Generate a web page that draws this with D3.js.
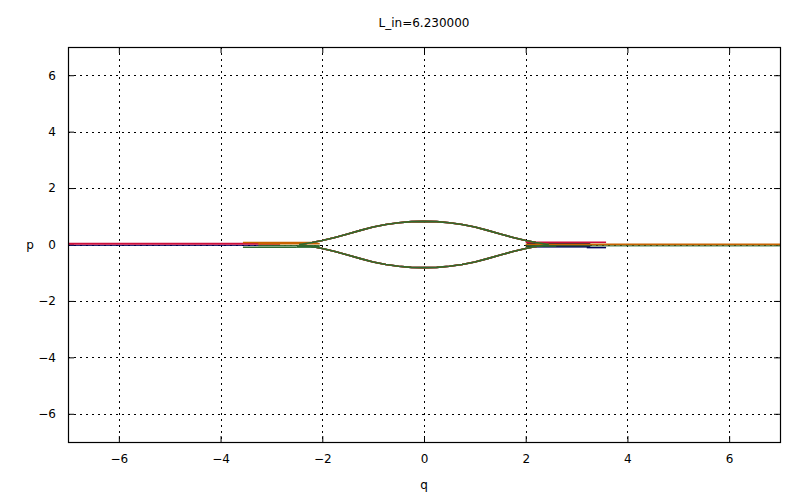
<!DOCTYPE html>
<html lang="en">
<head>
<meta charset="UTF-8">
<title>L_in=6.230000</title>
<script src="https://d3js.org/d3.v7.min.js"></script>
<style>
  body { margin: 0; background: #fff; }
  text { font-family: "DejaVu Sans", sans-serif; font-size: 12px; fill: #000; }
</style>
</head>
<body>
<div id="chart"></div>
<script>
    // Axis ticks
    const xTicks = [-6, -4, -2, 0, 2, 4, 6];
    const yTicks = [-6, -4, -2, 0, 2, 4, 6];

    // Separatrix-like lens (shared by all runs)
    const lensQ = [-2.45, -2.2, -2.0, -1.75, -1.5, -1.25, -1.0, -0.75, -0.5, -0.25, 0, 0.25, 0.5, 0.75, 1.0, 1.25, 1.5, 1.75, 2.0, 2.2, 2.45];
    const lensUpperP = [0.0, 0.07, 0.14, 0.25, 0.37, 0.5, 0.62, 0.71, 0.77, 0.81, 0.82, 0.81, 0.77, 0.71, 0.62, 0.5, 0.37, 0.25, 0.14, 0.07, 0.0];
    const lensLowerP = [0.0, -0.07, -0.14, -0.25, -0.37, -0.5, -0.62, -0.71, -0.77, -0.81, -0.82, -0.81, -0.77, -0.71, -0.62, -0.5, -0.37, -0.25, -0.14, -0.07, 0.0];

    // Tails (q from, q to, p, width) per run
    const redTails = [[-7, -2.83, 0.03, 2], [2.0, 3.58, 0.08, 1.5]];
    const navyTails = [[-7, -2.83, -0.03, 1], [3.2, 3.58, -0.11, 1.5]];
    const orangeTails = [[-3.56, -2.2, 0.075, 1.5], [2.0, 7, 0.0, 2]];
    const greenTails = [[-3.56, -2.5, -0.1, 1.5], [2.3, 7, -0.05, 1]];

    // Dense bands where the runs pile up (q from, q to, p low, p high)
    const redBands = [];
    const navyBands = [[2.02, 3.27, -0.11, 0.06]];
    const orangeBands = [[-3.26, -2.05, 0.0, 0.06]];
    const greenBands = [[-3.26, -2.5, -0.06, -0.02], [-2.5, -2.05, -0.12, -0.02], [2.0, 2.6, -0.08, -0.03]];

    const runs = [
        { color: "#00005a", tails: navyTails, bands: navyBands },
        { color: "#cc0e3c", tails: redTails, bands: redBands },
        { color: "#c86400", tails: orangeTails, bands: orangeBands },
        { color: "#2f6a2f", tails: greenTails, bands: greenBands }
    ];

    const width = 800, height = 494;
    const margin = { top: 47, right: 20, bottom: 52, left: 68 };

    const svg = d3.select("#chart").append("svg")
        .attr("width", width)
        .attr("height", height);

    const x = d3.scaleLinear().domain([-7, 7]).range([margin.left, width - margin.right]);
    const y = d3.scaleLinear().domain([-7, 7]).range([height - margin.bottom, margin.top]);

    const plotW = width - margin.right - margin.left;
    const plotH = height - margin.bottom - margin.top;

    // Grid (dotted)
    const grid = svg.append("g");
    grid.selectAll(".gx").data(xTicks).enter().append("line")
        .attr("x1", d => Math.round(x(d)) + 0.5).attr("x2", d => Math.round(x(d)) + 0.5)
        .attr("y1", margin.top).attr("y2", height - margin.bottom)
        .attr("stroke", "#000").attr("stroke-width", 1).attr("stroke-dasharray", "2,4");
    grid.selectAll(".gy").data(yTicks).enter().append("line")
        .attr("y1", d => Math.round(y(d)) + 0.5).attr("y2", d => Math.round(y(d)) + 0.5)
        .attr("x1", margin.left).attr("x2", width - margin.right)
        .attr("stroke", "#000").attr("stroke-width", 1).attr("stroke-dasharray", "2,4");

    // Axes with inward ticks on all four sides
    svg.append("g").attr("transform", `translate(0,${height - margin.bottom})`)
        .call(d3.axisBottom(x).tickValues(xTicks).tickSizeInner(-6).tickSizeOuter(0).tickPadding(12).tickFormat(d => d < 0 ? "\u2212" + (-d) : d))
        .call(g => g.select(".domain").remove());
    svg.append("g").attr("transform", `translate(0,${margin.top})`)
        .call(d3.axisTop(x).tickValues(xTicks).tickSizeInner(-6).tickSizeOuter(0).tickFormat(""))
        .call(g => g.select(".domain").remove());
    svg.append("g").attr("transform", `translate(${margin.left},0)`)
        .call(d3.axisLeft(y).tickValues(yTicks).tickSizeInner(-6).tickSizeOuter(0).tickPadding(12).tickFormat(d => d < 0 ? "\u2212" + (-d) : d))
        .call(g => g.select(".domain").remove());
    svg.append("g").attr("transform", `translate(${width - margin.right},0)`)
        .call(d3.axisRight(y).tickValues(yTicks).tickSizeInner(-6).tickSizeOuter(0).tickFormat(""))
        .call(g => g.select(".domain").remove());
    svg.selectAll(".tick text").style("font-family", "DejaVu Sans, sans-serif").style("font-size", "12px");

    // Plot clip
    svg.append("clipPath").attr("id", "clip").append("rect")
        .attr("x", margin.left).attr("y", margin.top).attr("width", plotW).attr("height", plotH);

    const plot = svg.append("g").attr("clip-path", "url(#clip)");
    const line = d3.line().x(d => x(d[0])).y(d => y(d[1]));
    const upper = lensQ.map((q, i) => [q, lensUpperP[i]]);
    const lower = lensQ.map((q, i) => [q, lensLowerP[i]]);

    runs.forEach(run => {
        const g = plot.append("g");
        g.selectAll("rect").data(run.bands).enter().append("rect")
            .attr("x", d => x(d[0])).attr("width", d => x(d[1]) - x(d[0]))
            .attr("y", d => y(d[3])).attr("height", d => y(d[2]) - y(d[3]))
            .attr("fill", run.color);
        g.selectAll(".tail").data(run.tails).enter().append("path")
            .attr("d", d => line([[d[0], d[2]], [d[1], d[2]]]))
            .attr("fill", "none").attr("stroke", run.color).attr("stroke-width", d => d[3]);
        [upper, lower].forEach(branch => {
            g.append("path").attr("d", line(branch))
                .attr("fill", "none").attr("stroke", run.color).attr("stroke-width", 1.6);
        });
    });

    // Frame
    svg.append("rect")
        .attr("x", margin.left + 0.5).attr("y", margin.top + 0.5)
        .attr("width", plotW).attr("height", plotH)
        .attr("fill", "none").attr("stroke", "#000").attr("stroke-width", 1.2);

    // Labels
    svg.append("text").attr("x", x(0)).attr("y", 27).attr("text-anchor", "middle").text("L_in=6.230000");
    svg.append("text").attr("x", x(0)).attr("y", 489).attr("text-anchor", "middle").text("q");
    svg.append("text").attr("x", 30).attr("y", y(0)).attr("dy", "0.35em").attr("text-anchor", "middle").text("p");
</script>
</body>
</html>
